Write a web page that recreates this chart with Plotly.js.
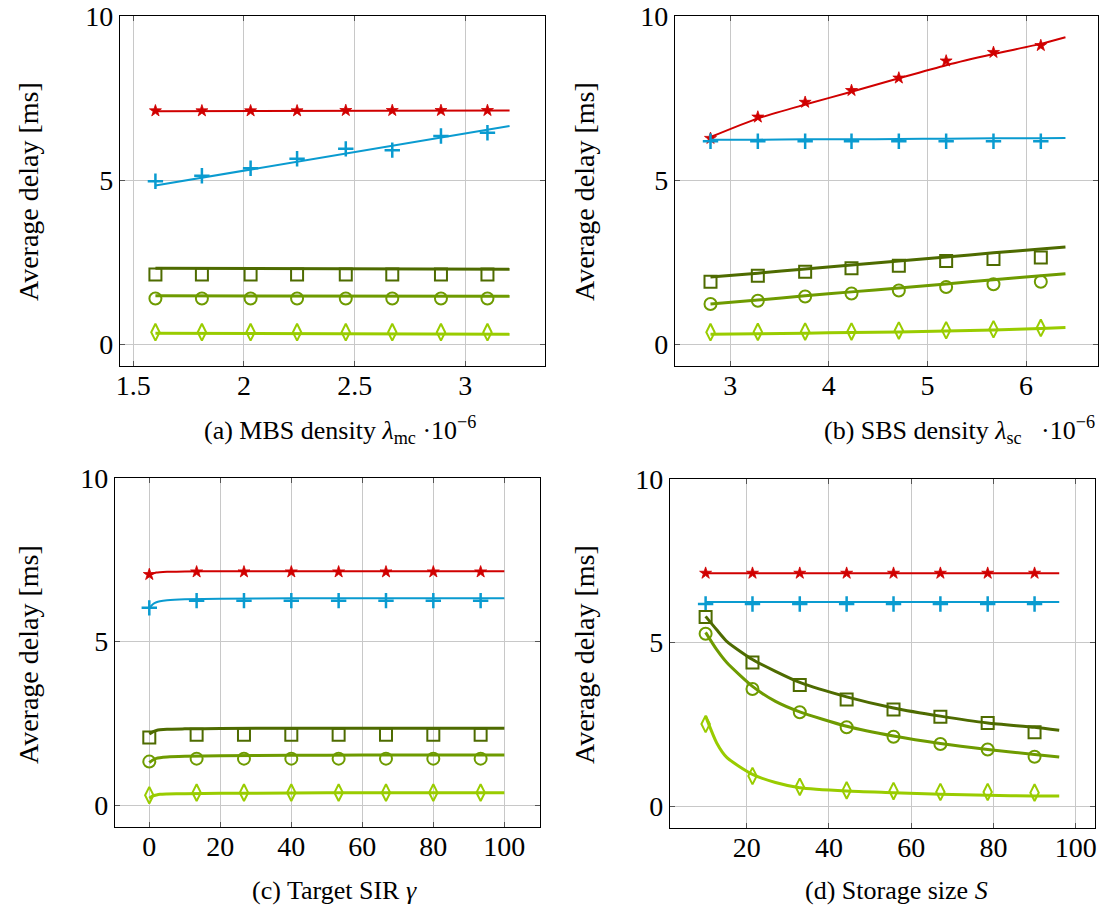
<!DOCTYPE html>
<html>
<head>
<meta charset="utf-8">
<script src="https://cdn.plot.ly/plotly-3.0.1.min.js"></script>
<style>html,body{margin:0;padding:0;background:#fff;}#chart{width:1105px;height:912px;}</style>
</head>
<body>
<div id="chart"></div>
<script>
// ---------- Panel (a): MBS density ----------
const aLineX = [1.6, 2.0, 2.4, 2.8, 3.2];
const aMarkX = [1.6, 1.81, 2.03, 2.24, 2.46, 2.67, 2.89, 3.1];
const aStarLine = [7.10, 7.10, 7.11, 7.11, 7.12];
const aStarMark = [7.11, 7.11, 7.11, 7.11, 7.12, 7.12, 7.12, 7.12];
const aPlusLine = [4.83, 5.29, 5.74, 6.20, 6.65];
const aPlusMark = [4.96, 5.13, 5.36, 5.65, 5.95, 5.91, 6.34, 6.44];
const aSqLine = [2.31, 2.30, 2.30, 2.29, 2.28];
const aSqMark = [2.12, 2.12, 2.12, 2.12, 2.12, 2.12, 2.12, 2.12];
const aCircLine = [1.47, 1.47, 1.46, 1.46, 1.46];
const aCircMark = [1.39, 1.39, 1.39, 1.39, 1.39, 1.39, 1.39, 1.39];
const aDiaLine = [0.33, 0.32, 0.31, 0.30, 0.30];
const aDiaMark = [0.36, 0.36, 0.36, 0.36, 0.36, 0.36, 0.36, 0.36];

// ---------- Panel (b): SBS density ----------
const bLineX = [2.8, 3.28, 3.76, 4.23, 4.71, 5.19, 5.67, 6.15, 6.4];
const bMarkX = [2.8, 3.28, 3.76, 4.23, 4.71, 5.19, 5.67, 6.15];
const bStarLine = [6.31, 6.88, 7.30, 7.69, 8.10, 8.50, 8.84, 9.15, 9.35];
const bStarMark = [6.27, 6.92, 7.37, 7.73, 8.11, 8.63, 8.89, 9.10];
const bPlusLine = [6.23, 6.23, 6.24, 6.24, 6.25, 6.26, 6.27, 6.27, 6.28];
const bPlusMark = [6.18, 6.18, 6.18, 6.18, 6.18, 6.18, 6.18, 6.18];
const bSqLine = [2.04, 2.16, 2.29, 2.41, 2.53, 2.65, 2.78, 2.90, 2.96];
const bSqMark = [1.90, 2.08, 2.20, 2.31, 2.39, 2.53, 2.59, 2.64];
const bCircLine = [1.22, 1.34, 1.47, 1.59, 1.71, 1.83, 1.96, 2.08, 2.14];
const bCircMark = [1.22, 1.32, 1.45, 1.54, 1.63, 1.74, 1.82, 1.90];
const bDiaLine = [0.30, 0.31, 0.33, 0.35, 0.37, 0.40, 0.43, 0.47, 0.50];
const bDiaMark = [0.36, 0.37, 0.38, 0.38, 0.41, 0.42, 0.45, 0.49];

// ---------- Panel (c): Target SIR ----------
const cLineX = [0, 1, 2, 3, 5, 10, 20, 40, 60, 80, 100];
const cMarkX = [0, 13.33, 26.67, 40, 53.33, 66.67, 80, 93.33];
const cStarLine = [7.03, 7.08, 7.11, 7.12, 7.13, 7.14, 7.15, 7.15, 7.15, 7.15, 7.15];
const cStarMark = [7.05, 7.13, 7.13, 7.13, 7.13, 7.13, 7.13, 7.13];
const cPlusLine = [6.03, 6.14, 6.20, 6.23, 6.26, 6.29, 6.31, 6.32, 6.32, 6.32, 6.32];
const cPlusMark = [6.03, 6.25, 6.25, 6.25, 6.25, 6.25, 6.25, 6.25];
const cSqLine = [2.17, 2.24, 2.28, 2.30, 2.32, 2.33, 2.34, 2.35, 2.35, 2.35, 2.35];
const cSqMark = [2.07, 2.15, 2.15, 2.15, 2.15, 2.15, 2.15, 2.15];
const cCircLine = [1.30, 1.38, 1.43, 1.45, 1.47, 1.49, 1.51, 1.52, 1.53, 1.53, 1.53];
const cCircMark = [1.33, 1.42, 1.42, 1.42, 1.42, 1.42, 1.42, 1.42];
const cDiaLine = [0.21, 0.28, 0.31, 0.33, 0.34, 0.35, 0.36, 0.37, 0.38, 0.38, 0.38];
const cDiaMark = [0.30, 0.38, 0.38, 0.38, 0.38, 0.38, 0.38, 0.38];

// ---------- Panel (d): Storage size ----------
const dLineX = [10, 12.7, 15.2, 21.4, 27, 32.9, 44.3, 55.7, 67.1, 78.6, 90, 96];
const dMarkX = [10, 21.4, 32.9, 44.3, 55.7, 67.1, 78.6, 90];
const dStarLine = [7.12, 7.12, 7.12, 7.12, 7.12, 7.12, 7.12, 7.12, 7.12, 7.12, 7.12, 7.12];
const dStarMark = [7.12, 7.12, 7.12, 7.12, 7.12, 7.12, 7.12, 7.12];
const dPlusLine = [6.24, 6.24, 6.24, 6.24, 6.24, 6.24, 6.24, 6.24, 6.24, 6.24, 6.24, 6.24];
const dPlusMark = [6.18, 6.18, 6.18, 6.18, 6.18, 6.18, 6.18, 6.18];
const dSqLine = [5.80, 5.39, 5.03, 4.48, 4.12, 3.78, 3.34, 3.00, 2.75, 2.54, 2.41, 2.32];
const dSqMark = [5.78, 4.39, 3.70, 3.26, 2.95, 2.73, 2.54, 2.26];
const dCircLine = [5.31, 4.78, 4.38, 3.66, 3.20, 2.88, 2.44, 2.14, 1.91, 1.73, 1.58, 1.50];
const dCircMark = [5.27, 3.58, 2.87, 2.41, 2.12, 1.90, 1.73, 1.51];
const dDiaLine = [2.75, 1.93, 1.48, 0.97, 0.72, 0.56, 0.46, 0.41, 0.36, 0.33, 0.31, 0.31];
const dDiaMark = [2.51, 0.92, 0.59, 0.48, 0.46, 0.43, 0.43, 0.41];

const xTickVals = {
  a: [1.5, 2, 2.5, 3],
  b: [3, 4, 5, 6],
  c: [0, 20, 40, 60, 80, 100],
  d: [20, 40, 60, 80, 100]
};
const yTickVals = [0, 5, 10];

const titles = {
  a: '(a) MBS density <i>λ</i><sub>mc</sub> ·10<sup>−6</sup>',
  b: '(b) SBS density <i>λ</i><sub>sc</sub>&nbsp;&nbsp;&nbsp;·10<sup>−6</sup>',
  c: '(c) Target SIR <i>γ</i>',
  d: '(d) Storage size <i>S</i>'
};
const yTitle = 'Average delay [ms]';

// ---------- styling ----------
const FONT = 'Liberation Serif, Times New Roman, serif';
const TICKSIZE = 28, TITLESIZE = 26, YTITLESIZE = 28;
const RED = '#d00000', BLUE = '#0a9bd0', DG = '#4e6b00', MG = '#6e9b00', LG = '#99cc00';

const styles = [
  {key: 'Star', color: RED, lw: 2, sym: 'star', msize: 9, mlw: 0.8},
  {key: 'Plus', color: BLUE, lw: 2, sym: 'cross-thin-open', msize: 11, mlw: 2.5},
  {key: 'Sq', color: DG, lw: 3, sym: 'square-open', msize: 12, mlw: 2},
  {key: 'Circ', color: MG, lw: 3, sym: 'circle-open', msize: 12, mlw: 2},
  {key: 'Dia', color: LG, lw: 3, sym: 'diamond-tall-open', msize: 12, mlw: 2}
];

const panels = [
  {id: 'a', xa: 'x', ya: 'y', lx: aLineX, mx: aMarkX, d: {StarLine: aStarLine, StarMark: aStarMark, PlusLine: aPlusLine, PlusMark: aPlusMark, SqLine: aSqLine, SqMark: aSqMark, CircLine: aCircLine, CircMark: aCircMark, DiaLine: aDiaLine, DiaMark: aDiaMark}, shape: 'linear'},
  {id: 'b', xa: 'x2', ya: 'y2', lx: bLineX, mx: bMarkX, d: {StarLine: bStarLine, StarMark: bStarMark, PlusLine: bPlusLine, PlusMark: bPlusMark, SqLine: bSqLine, SqMark: bSqMark, CircLine: bCircLine, CircMark: bCircMark, DiaLine: bDiaLine, DiaMark: bDiaMark}, shape: 'spline'},
  {id: 'c', xa: 'x3', ya: 'y3', lx: cLineX, mx: cMarkX, d: {StarLine: cStarLine, StarMark: cStarMark, PlusLine: cPlusLine, PlusMark: cPlusMark, SqLine: cSqLine, SqMark: cSqMark, CircLine: cCircLine, CircMark: cCircMark, DiaLine: cDiaLine, DiaMark: cDiaMark}, shape: 'spline'},
  {id: 'd', xa: 'x4', ya: 'y4', lx: dLineX, mx: dMarkX, d: {StarLine: dStarLine, StarMark: dStarMark, PlusLine: dPlusLine, PlusMark: dPlusMark, SqLine: dSqLine, SqMark: dSqMark, CircLine: dCircLine, CircMark: dCircMark, DiaLine: dDiaLine, DiaMark: dDiaMark}, shape: 'spline'}
];

const traces = [];
panels.forEach(p => {
  styles.forEach(s => {
    traces.push({
      x: p.lx, y: p.d[s.key + 'Line'], xaxis: p.xa, yaxis: p.ya,
      mode: 'lines', line: {color: s.color, width: s.lw, shape: p.shape, smoothing: 0.6},
      showlegend: false, hoverinfo: 'skip'
    });
    traces.push({
      x: p.mx, y: p.d[s.key + 'Mark'], xaxis: p.xa, yaxis: p.ya,
      mode: 'markers',
      marker: {symbol: s.sym, size: s.msize, color: s.color, line: {color: s.color, width: s.mlw}},
      showlegend: false, hoverinfo: 'skip'
    });
  });
});

function xax(domain, range, tv, anchor) {
  return {domain, range, tickvals: tv, ticktext: tv.map(String), anchor,
    showline: true, mirror: 'ticks', linecolor: '#000', linewidth: 1.2,
    ticks: 'inside', ticklen: 5, tickcolor: '#555', tickwidth: 1,
    showgrid: true, gridcolor: '#c8c8c8', gridwidth: 1, zeroline: false,
    tickfont: {family: FONT, size: TICKSIZE, color: '#000'}, ticklabelstandoff: -6};
}
function yax(domain, anchor) {
  return {domain, range: [-0.67, 10], tickvals: yTickVals, ticktext: yTickVals.map(String), anchor,
    showline: true, mirror: 'ticks', linecolor: '#000', linewidth: 1.2,
    ticks: 'inside', ticklen: 5, tickcolor: '#555', tickwidth: 1,
    showgrid: true, gridcolor: '#c8c8c8', gridwidth: 1, zeroline: false,
    tickfont: {family: FONT, size: TICKSIZE, color: '#000'}, ticklabelstandoff: 0};
}

const W = 1105, H = 912;
const px = v => v / W, py = v => 1 - v / H;

function ann(text, x, y, size, angle, xanchor) {
  return {text, x: px(x), y: py(y), xref: 'paper', yref: 'paper', showarrow: false,
    textangle: angle || 0, xanchor: xanchor || 'center', yanchor: 'middle', font: {family: FONT, size, color: '#000'}};
}

const layout = {
  width: W, height: H,
  margin: {l: 0, r: 0, t: 0, b: 0},
  paper_bgcolor: '#fff', plot_bgcolor: '#fff',
  font: {family: FONT, size: 22, color: '#000'},
  xaxis: xax([px(120), px(545)], [1.44, 3.36], xTickVals.a, 'y'),
  yaxis: yax([py(366), py(16)], 'x'),
  xaxis2: xax([px(675), px(1098)], [2.44, 6.73], xTickVals.b, 'y2'),
  yaxis2: yax([py(366), py(16)], 'x2'),
  xaxis3: xax([px(115), px(540)], [-9.66, 110.05], xTickVals.c, 'y3'),
  yaxis3: yax([py(827), py(478)], 'x3'),
  xaxis4: xax([px(670), px(1095)], [1.34, 104.7], xTickVals.d, 'y4'),
  yaxis4: yax([py(828), py(479)], 'x4'),
  annotations: [
    ann(titles.a, 202, 430, TITLESIZE, 0, 'left'),
    ann(titles.b, 1097, 430, TITLESIZE, 0, 'right'),
    ann(titles.c, 334, 890, TITLESIZE),
    ann(titles.d, 896, 890, TITLESIZE),
    ann(yTitle, 28, 192, YTITLESIZE, -90),
    ann(yTitle, 584, 192, YTITLESIZE, -90),
    ann(yTitle, 28, 655, YTITLESIZE, -90),
    ann(yTitle, 584, 655, YTITLESIZE, -90)
  ]
};

Plotly.newPlot('chart', traces, layout, {staticPlot: true, displayModeBar: false});
</script>
</body>
</html>
